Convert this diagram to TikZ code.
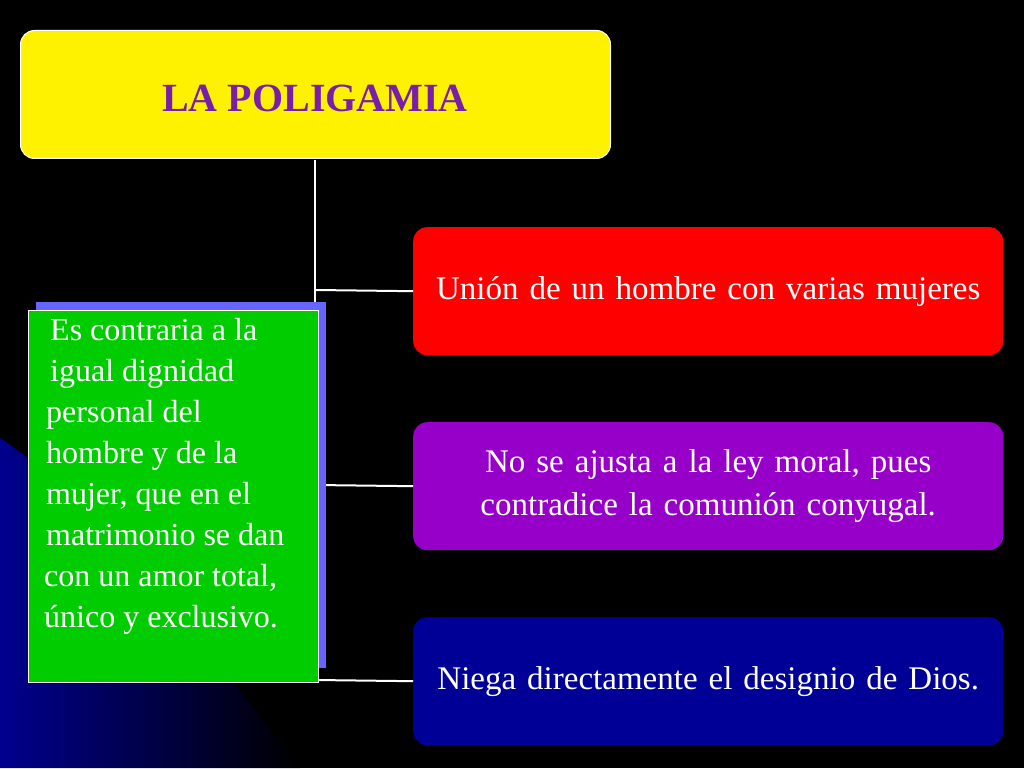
\documentclass[tikz,border=0pt]{standalone}
\usepackage{fontspec}
\setmainfont{Liberation Serif}
\definecolor{pbox}{RGB}{150,0,200}
\definecolor{ttl}{RGB}{120,30,170}
\definecolor{nbox}{RGB}{0,0,150}
\begin{document}
\begin{tikzpicture}[x=1pt,y=1pt,
 box/.style={rounded corners=14pt,minimum width=590pt,minimum height=128pt,anchor=north west,inner sep=0pt,align=center,text width=580pt,text=white,font=\fontsize{33}{43}\selectfont}]
\fill[black] (0,0) rectangle (1024,768);
\useasboundingbox (0,0) rectangle (1024,768);
\shade[left color=blue!70!black,right color=black,opacity=0.8] (0,0) -- (0,330) .. controls (120,250) and (220,100) .. (300,0) -- cycle;
\node[box,fill=yellow,draw=white,line width=1pt] (top) at (20,738) {};
\node[text=ttl,font=\fontsize{40}{46}\selectfont\bfseries] (title) at (315,670) {LA POLIGAMIA};
\node[box,fill=red] (a) at (413,541) {Unión de un hombre con varias mujeres};
\node[box,fill=pbox] (b) at (413,346) {No se ajusta a la ley moral, pues\\contradice la comunión conyugal.};
\node[box,fill=nbox] (c) at (413,151) {Niega directamente el designio de Dios.};
\coordinate (j1) at (315,478);
\coordinate (j2) at (315,283);
\coordinate (j3) at (315,88);
\draw[white,line width=2pt] (315,608) -- (j3);
\draw[white,line width=2pt] (j1) -- (a.west);
\draw[white,line width=2pt] (j2) -- (b.west);
\draw[white,line width=2pt] (j3) -- (c.west);
\fill[blue!60!white] (36,466) rectangle (326,100);
\node[fill=green!80!black,draw=white,line width=0.5pt,minimum width=290pt,minimum height=372pt,anchor=north west,inner sep=0pt] (g) at (28,458) {};
\node[anchor=north west,align=left,font=\fontsize{32}{41}\selectfont,text=white,inner sep=0pt] (gt) at (40,450)
{\hspace{10pt}Es contraria a la\\\hspace{10pt}igual dignidad\\\hspace{6pt}personal del\\\hspace{6pt}hombre y de la\\\hspace{6pt}mujer, que en el\\\hspace{6pt}matrimonio se dan\\\hspace{4pt}con un amor total,\\\hspace{4pt}único y exclusivo.};
\end{tikzpicture}
\end{document}
